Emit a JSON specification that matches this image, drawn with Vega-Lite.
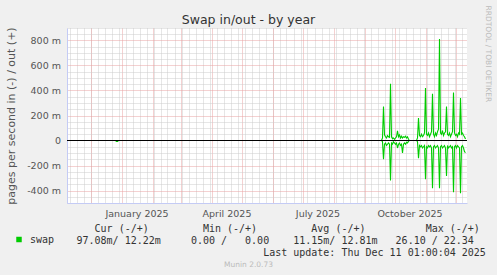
{
  "$schema": "https://vega.github.io/schema/vega-lite/v6.json",
  "width": 400,
  "height": 175,
  "autosize": "none",
  "padding": {"left": 67, "top": 28, "right": 30, "bottom": 72},
  "background": "#f0f0f0",
  "config": {
    "view": {"fill": "#ffffff", "stroke": null},
    "font": "DejaVu Sans",
    "axis": {"ticks": false, "tickSize": 0, "titleFontWeight": "normal", "labelFont": "DejaVu Sans"}
  },
  "title": {
    "text": "Swap in/out - by year",
    "font": "DejaVu Sans",
    "fontSize": 12.5,
    "fontWeight": "normal",
    "color": "#333333",
    "anchor": "middle",
    "frame": "group",
    "dx": -18.5,
    "dy": 35,
    "offset": 4,
    "baseline": "alphabetic"
  },
  "data": {
    "values": [
      {"d": "2024-11-08", "out": 0, "in": 0},
      {"d": "2024-12-26", "out": 0, "in": 0},
      {"d": "2024-12-27", "out": 0, "in": -0.008},
      {"d": "2024-12-28", "out": 0, "in": -0.008},
      {"d": "2024-12-29", "out": 0, "in": 0},
      {"d": "2025-09-18", "out": 0, "in": 0},
      {"d": "2025-09-19", "out": 0.02, "in": -0.01},
      {"d": "2025-09-20", "out": 0.272, "in": -0.149},
      {"d": "2025-09-21", "out": 0.045, "in": -0.03},
      {"d": "2025-09-22", "out": 0.03, "in": -0.02},
      {"d": "2025-09-23", "out": 0.02, "in": -0.04},
      {"d": "2025-09-24", "out": 0.04, "in": -0.03},
      {"d": "2025-09-25", "out": 0.03, "in": -0.02},
      {"d": "2025-09-26", "out": 0.025, "in": -0.03},
      {"d": "2025-09-27", "out": 0.454, "in": -0.32},
      {"d": "2025-09-28", "out": 0.03, "in": -0.02},
      {"d": "2025-09-29", "out": 0.015, "in": -0.03},
      {"d": "2025-09-30", "out": 0.02, "in": -0.01},
      {"d": "2025-10-01", "out": 0.01, "in": -0.02},
      {"d": "2025-10-02", "out": 0.02, "in": -0.03},
      {"d": "2025-10-03", "out": 0.03, "in": -0.02},
      {"d": "2025-10-04", "out": 0.078, "in": -0.06},
      {"d": "2025-10-05", "out": 0.03, "in": -0.03},
      {"d": "2025-10-06", "out": 0.045, "in": -0.02},
      {"d": "2025-10-07", "out": 0.02, "in": -0.04},
      {"d": "2025-10-08", "out": 0.035, "in": -0.03},
      {"d": "2025-10-09", "out": 0.02, "in": -0.1},
      {"d": "2025-10-10", "out": 0.03, "in": -0.03},
      {"d": "2025-10-11", "out": 0.025, "in": -0.02},
      {"d": "2025-10-12", "out": 0.035, "in": -0.03},
      {"d": "2025-10-13", "out": 0.02, "in": -0.015},
      {"d": "2025-10-14", "out": 0.03, "in": -0.02},
      {"d": "2025-10-15", "out": 0.01, "in": -0.005},
      {"d": "2025-10-16", "out": 0, "in": 0},
      {"d": "2025-10-23", "out": 0, "in": 0},
      {"d": "2025-10-24", "out": 0.02, "in": -0.01},
      {"d": "2025-10-25", "out": 0.179, "in": -0.141},
      {"d": "2025-10-26", "out": 0.04, "in": -0.04},
      {"d": "2025-10-27", "out": 0.03, "in": -0.05},
      {"d": "2025-10-28", "out": 0.05, "in": -0.04},
      {"d": "2025-10-29", "out": 0.03, "in": -0.06},
      {"d": "2025-10-30", "out": 0.04, "in": -0.05},
      {"d": "2025-10-31", "out": 0.06, "in": -0.04},
      {"d": "2025-11-01", "out": 0.419, "in": -0.309},
      {"d": "2025-11-02", "out": 0.05, "in": -0.05},
      {"d": "2025-11-03", "out": 0.04, "in": -0.06},
      {"d": "2025-11-04", "out": 0.06, "in": -0.04},
      {"d": "2025-11-05", "out": 0.03, "in": -0.05},
      {"d": "2025-11-06", "out": 0.05, "in": -0.04},
      {"d": "2025-11-07", "out": 0.07, "in": -0.06},
      {"d": "2025-11-08", "out": 0.373, "in": -0.381},
      {"d": "2025-11-09", "out": 0.05, "in": -0.05},
      {"d": "2025-11-10", "out": 0.03, "in": -0.04},
      {"d": "2025-11-11", "out": 0.06, "in": -0.06},
      {"d": "2025-11-12", "out": 0.04, "in": -0.05},
      {"d": "2025-11-13", "out": 0.07, "in": -0.04},
      {"d": "2025-11-14", "out": 0.09, "in": -0.06},
      {"d": "2025-11-15", "out": 0.811, "in": -0.381},
      {"d": "2025-11-16", "out": 0.06, "in": -0.05},
      {"d": "2025-11-17", "out": 0.05, "in": -0.04},
      {"d": "2025-11-18", "out": 0.08, "in": -0.06},
      {"d": "2025-11-19", "out": 0.04, "in": -0.05},
      {"d": "2025-11-20", "out": 0.06, "in": -0.04},
      {"d": "2025-11-21", "out": 0.07, "in": -0.06},
      {"d": "2025-11-22", "out": 0.272, "in": -0.283},
      {"d": "2025-11-23", "out": 0.05, "in": -0.04},
      {"d": "2025-11-24", "out": 0.04, "in": -0.06},
      {"d": "2025-11-25", "out": 0.06, "in": -0.05},
      {"d": "2025-11-26", "out": 0.03, "in": -0.04},
      {"d": "2025-11-27", "out": 0.05, "in": -0.06},
      {"d": "2025-11-28", "out": 0.07, "in": -0.05},
      {"d": "2025-11-29", "out": 0.384, "in": -0.413},
      {"d": "2025-11-30", "out": 0.06, "in": -0.05},
      {"d": "2025-12-01", "out": 0.04, "in": -0.04},
      {"d": "2025-12-02", "out": 0.05, "in": -0.06},
      {"d": "2025-12-03", "out": 0.03, "in": -0.04},
      {"d": "2025-12-04", "out": 0.06, "in": -0.05},
      {"d": "2025-12-05", "out": 0.05, "in": -0.06},
      {"d": "2025-12-06", "out": 0.339, "in": -0.421},
      {"d": "2025-12-07", "out": 0.05, "in": -0.05},
      {"d": "2025-12-08", "out": 0.06, "in": -0.04},
      {"d": "2025-12-09", "out": 0.04, "in": -0.06},
      {"d": "2025-12-10", "out": 0.03, "in": -0.09},
      {"d": "2025-12-11", "out": 0.012, "in": -0.097}
    ]
  },
  "layer": [
    {
      "mark": {"type": "line", "strokeWidth": 1.1},
      "encoding": {
        "x": {
          "field": "d", "type": "temporal",
          "scale": {"type": "utc", "nice": false, "domain": [{"year": 2024, "month": 11, "date": 7, "hours": 12, "utc": true}, {"year": 2025, "month": 12, "date": 12, "hours": 12, "utc": true}]},
          "axis": {
            "orient": "bottom",
            "tickCount": {"interval": "week"},
            "grid": true, "gridColor": "#cccccc", "gridDash": [1, 1],
            "labels": false, "ticks": false, "domain": false,
            "title": "Munin 2.0.73",
            "titleFont": "DejaVu Sans", "titleFontSize": 7.5, "titleColor": "#bbbbbb", "titleFontWeight": "normal",
            "titleX": 181, "titleY": 63.5, "titleAlign": "center", "titleBaseline": "alphabetic"
          }
        },
        "y": {
          "field": "in", "type": "quantitative",
          "scale": {"domain": [-0.5, 0.9], "nice": false, "zero": false},
          "axis": {
            "orient": "right", "grid": false, "labels": false, "ticks": false, "domain": false,
            "title": "RRDTOOL / TOBI OETIKER",
            "titleFont": "DejaVu Sans", "titleFontSize": 7.5, "titleColor": "#bbbbbb", "titleFontWeight": "normal",
            "titleAngle": 90, "titleAlign": "left", "titleBaseline": "middle", "titleX": 20.5, "titleY": -23
          }
        },
        "color": {
          "datum": "swap",
          "scale": {"domain": ["swap"], "range": ["#00cc00"]},
          "legend": {
            "orient": "none", "legendX": -53, "legendY": 206.5, "title": null, "padding": 0,
            "symbolType": "square", "symbolSize": 30, "symbolStrokeWidth": 0,
            "labelFont": "DejaVu Sans Mono", "labelFontSize": 10, "labelColor": "#333333", "labelOffset": 6,
            "encode": {"symbols": {"update": {"fill": {"value": "#00cc00"}, "stroke": {"value": "#00cc00"}, "opacity": {"value": 1}}}}
          }
        }
      }
    },
    {
      "mark": {"type": "line", "strokeWidth": 1.1},
      "encoding": {
        "x": {
          "field": "d", "type": "temporal",
          "scale": {"type": "utc", "nice": false, "domain": [{"year": 2024, "month": 11, "date": 7, "hours": 12, "utc": true}, {"year": 2025, "month": 12, "date": 12, "hours": 12, "utc": true}]},
          "axis": {
            "orient": "bottom",
            "tickCount": {"interval": "month"},
            "grid": true, "gridColor": "#e9a3a3", "gridDash": [1, 1],
            "ticks": false, "tickSize": 0,
            "domain": true, "domainColor": "#c4cbf5",
            "labelExpr": "utcmonth(datum.value) % 3 == 0 ? utcFormat(datum.value, '%B %Y') : ''",
            "labelOffset": 15, "labelPadding": 13, "labelBaseline": "alphabetic",
            "labelOverlap": false, "labelFlush": false,
            "labelFont": "DejaVu Sans", "labelFontSize": 9.5, "labelColor": "#555555",
            "title": [
              "\u200b\u00a0\u00a0\u00a0Cur\u00a0(-/+)\u00a0\u00a0\u00a0\u00a0\u00a0\u00a0\u00a0\u00a0\u00a0Min\u00a0(-/+)\u00a0\u00a0\u00a0\u00a0\u00a0\u00a0\u00a0\u00a0\u00a0Avg\u00a0(-/+)\u00a0\u00a0\u00a0\u00a0\u00a0\u00a0\u00a0\u00a0\u00a0\u00a0Max\u00a0(-/+)",
              "97.08m/\u00a012.22m\u00a0\u00a0\u00a0\u00a0\u00a00.00\u00a0/\u00a0\u00a0\u00a00.00\u00a0\u00a0\u00a0\u00a011.15m/\u00a012.81m\u00a0\u00a0\u00a026.10\u00a0/\u00a022.34",
              "\u200b\u00a0\u00a0\u00a0\u00a0\u00a0\u00a0\u00a0\u00a0\u00a0\u00a0\u00a0\u00a0\u00a0\u00a0\u00a0\u00a0\u00a0\u00a0\u00a0\u00a0\u00a0\u00a0\u00a0\u00a0\u00a0\u00a0\u00a0\u00a0\u00a0\u00a0\u00a0Last\u00a0update:\u00a0Thu\u00a0Dec\u00a011\u00a001:00:04\u00a02025"
            ],
            "titleFont": "DejaVu Sans Mono", "titleFontSize": 10, "titleFontWeight": "normal", "titleColor": "#333333",
            "titleX": 9, "titleY": 28, "titleAlign": "left", "titleAnchor": "start", "titleBaseline": "alphabetic", "titleLineHeight": 12
          }
        },
        "y": {
          "field": "out", "type": "quantitative",
          "scale": {"domain": [-0.5, 0.9], "nice": false, "zero": false},
          "axis": {
            "orient": "left",
            "values": [-0.5, -0.45, -0.4, -0.35, -0.3, -0.25, -0.2, -0.15, -0.1, -0.05, 0, 0.05, 0.1, 0.15, 0.2, 0.25, 0.3, 0.35, 0.4, 0.45, 0.5, 0.55, 0.6, 0.65, 0.7, 0.75, 0.8, 0.85, 0.9],
            "grid": true,
            "gridColor": {"condition": {"test": "abs(round(datum.value*1000)) % 200 == 0", "value": "#e9a3a3"}, "value": "#cccccc"},
            "gridDash": [1, 1],
            "ticks": false, "tickSize": 0,
            "domain": true, "domainColor": "#c4cbf5",
            "labelExpr": "abs(round(datum.value*1000)) % 200 == 0 ? (round(datum.value*1000) == 0 ? '0' : (datum.value < 0 ? '-' : '') + abs(round(datum.value*1000)) + ' m') : ''",
            "labelPadding": 6.5, "labelOverlap": false,
            "labelFont": "DejaVu Sans", "labelFontSize": 9.5, "labelColor": "#555555",
            "title": "pages per second in (-) / out (+)",
            "titleFont": "DejaVu Sans", "titleFontSize": 11, "titleColor": "#555555", "titleFontWeight": "normal",
            "titleX": -53, "titleY": 87.5, "titleAlign": "center", "titleAngle": 270, "titleBaseline": "alphabetic"
          }
        },
        "color": {
          "datum": "swap",
          "scale": {"domain": ["swap"], "range": ["#00cc00"]},
          "legend": {
            "orient": "none", "legendX": -53, "legendY": 206.5, "title": null, "padding": 0,
            "symbolType": "square", "symbolSize": 30, "symbolStrokeWidth": 0,
            "labelFont": "DejaVu Sans Mono", "labelFontSize": 10, "labelColor": "#333333", "labelOffset": 6,
            "encode": {"symbols": {"update": {"fill": {"value": "#00cc00"}, "stroke": {"value": "#00cc00"}, "opacity": {"value": 1}}}}
          }
        }
      }
    },
    {
      "data": {"values": [{}]},
      "mark": {"type": "rule", "color": "#000000", "strokeWidth": 1},
      "encoding": {
        "y": {"datum": 0, "type": "quantitative", "scale": {"domain": [-0.5, 0.9], "nice": false, "zero": false}, "axis": null}
      }
    }
  ],
  "resolve": {"axis": {"x": "independent", "y": "independent"}}
}
